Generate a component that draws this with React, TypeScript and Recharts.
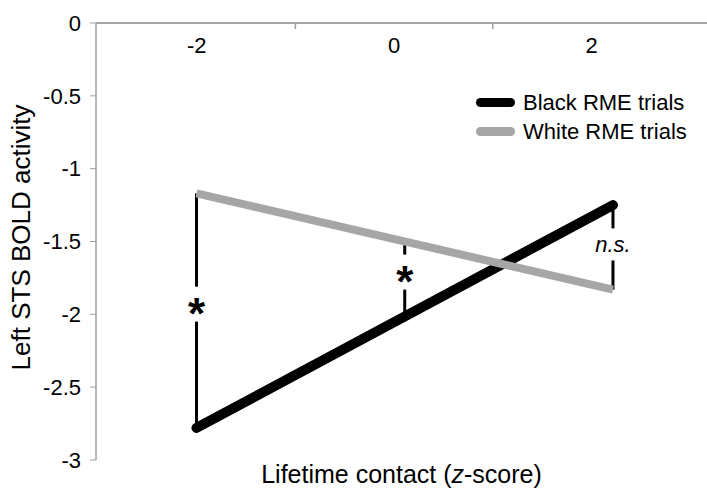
import { ComposedChart, Line, XAxis, YAxis, ReferenceLine, ReferenceDot } from 'recharts'

// lifetime contact (z-score) and left STS BOLD activity
const contactScores = [-2, 2]
const blackTrials = [-2.78, -1.25]
const whiteTrials = [-1.17, -1.83]

const xTickLabels = [-2, 0, 2]
const xTickMarks = [-1, 1]
const yTicks = [0, -0.5, -1, -1.5, -2, -2.5, -3]

// significance brackets between the two lines
const bracketX = [-2, 0, 2]
const bracketTop = [-1.17, -1.5, -1.25]
const bracketBottom = [-2.78, -2.015, -1.83]
const gapTop = [-1.81, -1.59, -1.41]
const gapBottom = [-2.05, -1.83, -1.63]
const bracketMarks = ['*', '*', 'n.s.']

const blackData = contactScores.map((x, i) => ({ x, y: blackTrials[i] }))
const whiteData = contactScores.map((x, i) => ({ x, y: whiteTrials[i] }))
// anchors the category-style label axis so it gets drawn
const labelAxisData = xTickLabels.map((x) => ({ x, y: 0 }))

const FONT = '"Liberation Sans", Arial, Helvetica, sans-serif'
const AXIS_GREY = '#a0a0a0'
const LINE_GREY = '#a6a6a6'

function TopTick(props: any) {
  const { x, y, payload } = props
  if (xTickMarks.includes(payload.value)) {
    return <line x1={x} x2={x} y1={y} y2={y + 6} stroke={AXIS_GREY} strokeWidth={1.5} />
  }
  return (
    <text x={x} y={y + 22} textAnchor="middle" dominantBaseline="central" fontSize={22} fill="#000" fontFamily={FONT}>
      {payload.value}
    </text>
  )
}

function XTitle(props: any) {
  const vb = props.viewBox
  return (
    <text x={vb.x + vb.width / 2} y={vb.y + 14} textAnchor="middle" dominantBaseline="central" fontSize={25} fill="#000" fontFamily={FONT}>
      <tspan>Lifetime contact (</tspan>
      <tspan fontStyle="italic">z</tspan>
      <tspan>-score)</tspan>
    </text>
  )
}

function YTitle(props: any) {
  const vb = props.viewBox
  const cx = vb.x + 21
  const cy = vb.y + vb.height / 2 - 4
  return (
    <text x={cx} y={cy} transform={`rotate(-90, ${cx}, ${cy})`} textAnchor="middle" dominantBaseline="central" fontSize={26} fill="#000" fontFamily={FONT}>
      Left STS BOLD activity
    </text>
  )
}

function BracketMark({ cx, cy, mark }: any) {
  if (mark === '*') {
    return (
      <text x={cx} y={cy + 25} textAnchor="middle" fontSize={44} fontWeight="bold" fill="#000" fontFamily={FONT}>
        *
      </text>
    )
  }
  return (
    <text x={cx} y={cy} textAnchor="middle" dominantBaseline="central" fontSize={22} fontStyle="italic" fill="#000" fontFamily={FONT}>
      {mark}
    </text>
  )
}

function LegendBox() {
  const rows = [
    { name: 'Black RME trials', color: '#000' },
    { name: 'White RME trials', color: LINE_GREY },
  ]
  return (
    <div style={{ position: 'absolute', left: 476, top: 88, fontFamily: FONT, fontSize: 22, color: '#000' }}>
      {rows.map((r) => (
        <div key={r.name} style={{ display: 'flex', alignItems: 'center', height: 29 }}>
          <div style={{ width: 39, height: 9, borderRadius: 5, background: r.color, marginRight: 8 }} />
          <span style={{ whiteSpace: 'nowrap' }}>{r.name}</span>
        </div>
      ))}
    </div>
  )
}

export default function App() {
  return (
    <div style={{ position: 'absolute', left: 0, top: 0, width: 707, height: 488, background: '#fff' }}>
      <ComposedChart width={707} height={488} margin={{ top: 0, right: 0, bottom: 0, left: 0 }}>
        <XAxis
          xAxisId="labels"
          dataKey="x"
          type="number"
          orientation="top"
          domain={[-3.02, 3.17]}
          allowDataOverflow
          ticks={[...xTickLabels, ...xTickMarks].sort((a, b) => a - b)}
          interval={0}
          height={23}
          tickSize={0}
          tickMargin={0}
          tickLine={false}
          axisLine={{ stroke: AXIS_GREY, strokeWidth: 1.5 }}
          tick={<TopTick />}
        />
        <XAxis
          xAxisId="data"
          dataKey="x"
          type="number"
          domain={[-2.965, 2.903]}
          allowDataOverflow
          height={28}
          tick={false}
          tickLine={false}
          axisLine={false}
          label={<XTitle />}
        />
        <YAxis
          type="number"
          domain={[-3, 0]}
          allowDataOverflow
          ticks={yTicks}
          interval={0}
          width={96}
          tickSize={6}
          tickMargin={9}
          axisLine={{ stroke: AXIS_GREY, strokeWidth: 1.5 }}
          tickLine={{ stroke: AXIS_GREY }}
          tick={{ fill: '#000', fontSize: 22, fontFamily: FONT }}
          label={<YTitle />}
        />
        {/* the category axis line sits at y = 0, along the top of the plot */}
        <ReferenceLine xAxisId="labels" y={0} stroke={AXIS_GREY} strokeWidth={1.5} />
        <Line
          xAxisId="labels"
          data={labelAxisData}
          dataKey="y"
          stroke="none"
          dot={false}
          activeDot={false}
          legendType="none"
          isAnimationActive={false}
        />
        {bracketX.map((x, i) => (
          <ReferenceLine
            key={`top${i}`}
            xAxisId="data"
            segment={[{ x, y: bracketTop[i] }, { x, y: gapTop[i] }]}
            stroke="#000"
            strokeWidth={3}
          />
        ))}
        {bracketX.map((x, i) => (
          <ReferenceLine
            key={`bot${i}`}
            xAxisId="data"
            segment={[{ x, y: gapBottom[i] }, { x, y: bracketBottom[i] }]}
            stroke="#000"
            strokeWidth={3}
          />
        ))}
        <Line
          xAxisId="data"
          data={blackData}
          dataKey="y"
          type="linear"
          stroke="#000"
          strokeWidth={10}
          strokeLinecap="round"
          dot={false}
          activeDot={false}
          isAnimationActive={false}
        />
        <Line
          xAxisId="data"
          data={whiteData}
          dataKey="y"
          type="linear"
          stroke={LINE_GREY}
          strokeWidth={8}
          dot={false}
          activeDot={false}
          isAnimationActive={false}
        />
        {bracketX.map((x, i) => (
          <ReferenceDot
            key={`mark${i}`}
            xAxisId="data"
            x={x}
            y={(gapTop[i] + gapBottom[i]) / 2}
            r={0}
            shape={(p: any) => <BracketMark cx={p.cx} cy={p.cy} mark={bracketMarks[i]} />}
          />
        ))}
      </ComposedChart>
      <LegendBox />
    </div>
  )
}
